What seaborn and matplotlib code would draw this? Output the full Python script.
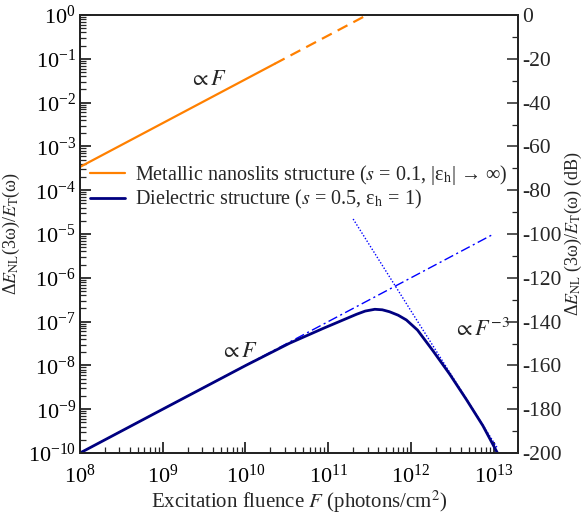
import numpy as np
import pandas as pd
import matplotlib
matplotlib.use("Agg")
import matplotlib.pyplot as plt
from matplotlib.ticker import LogLocator, MultipleLocator, NullFormatter
import seaborn as sns

# ---- data ----
metal_solid_F = [1e8, 2.26e10]
metal_solid_v = [3.4e-4, 7.7e-2]
metal_dash_F = [2.26e10, 2.94e11]
metal_dash_v = [7.7e-2, 1.0]

diel_F = [1e8, 1e9, 1e10, 3.4e10, 8.7e10, 2.2e11, 2.8e11, 3.66e11, 4.5e11,
          5.5e11, 7.0e11, 8.8e11, 1.2e12, 1.85e12, 2.94e12, 4.68e12, 7.4e12, 1.11e13]
diel_v = [1e-10, 1e-9, 9.9e-9, 3.2e-8, 7.0e-8, 1.47e-7, 1.74e-7, 1.91e-7, 1.86e-7,
          1.68e-7, 1.40e-7, 1.09e-7, 6.4e-8, 2.14e-8, 6.3e-9, 1.66e-9, 4.2e-10, 1.0e-10]

lin_F = [1e8, 1e13]
lin_v = [1e-10, 1e-5]

cube_F = [2.0e11, 1.1e13]
cube_v = [2.2e-5, 1.32e-10]

legend_labels = [
    r"Metallic nanoslits structure ($s$ = 0.1, |ε$_\mathrm{h}$| → ∞)",
    r"Dielectric structure ($s$ = 0.5, ε$_\mathrm{h}$ = 1)",
]

sns.set_theme(style="ticks")
plt.rcParams["font.family"] = ["serif"]
plt.rcParams["font.serif"] = ["Liberation Serif", "DejaVu Serif"]
plt.rcParams["mathtext.fontset"] = "stix"
plt.rcParams["axes.unicode_minus"] = False
plt.rcParams["axes.linewidth"] = 1.3

TICK_FS = 16
LAB_FS = 15
LEG_FS = 14.5
ANN_FS = 16

fig = plt.figure(figsize=(5.88, 5.14), dpi=100)
ax = fig.add_axes([80/588, 1-453/514, (517.7-80)/588, (453-15)/514])

orange = "#FF8000"
navy = "#000080"
blue = "#0000FF"

sns.lineplot(x=metal_solid_F, y=metal_solid_v, ax=ax, color=orange, lw=1.6,
             sort=False, estimator=None, label=legend_labels[0])
sns.lineplot(x=metal_dash_F, y=metal_dash_v, ax=ax, color=orange, lw=1.6,
             sort=False, estimator=None)
ax.lines[-1].set_dashes((5, 3))
sns.lineplot(x=lin_F, y=lin_v, ax=ax, color=blue, lw=1.0, sort=False, estimator=None)
ax.lines[-1].set_dashes((7, 2.5, 1.5, 2.5))
sns.lineplot(x=cube_F, y=cube_v, ax=ax, color=blue, lw=1.0, sort=False, estimator=None)
ax.lines[-1].set_dashes((1, 1.3))
sns.lineplot(x=diel_F, y=diel_v, ax=ax, color=navy, lw=2.0, sort=False,
             estimator=None, label=legend_labels[1])

ax.set_xscale("log")
ax.set_yscale("log")
ax.set_xlim(1e8, 1.95e13)
ax.set_ylim(1e-10, 1)

ax.xaxis.set_major_locator(LogLocator(base=10, numticks=20))
ax.xaxis.set_minor_locator(LogLocator(base=10, subs=np.arange(2, 10), numticks=20))
ax.xaxis.set_minor_formatter(NullFormatter())
ax.yaxis.set_major_locator(LogLocator(base=10, numticks=20))
ax.yaxis.set_minor_locator(LogLocator(base=10, subs=np.arange(2, 10), numticks=20))
ax.yaxis.set_minor_formatter(NullFormatter())
ax.tick_params(axis="both", which="major", direction="in", length=8, width=1.1,
               labelsize=TICK_FS, top=False, right=False, colors="black")
ax.tick_params(axis="both", which="minor", direction="in", length=4.5, width=0.9,
               top=False, right=False)
ax.tick_params(axis="x", pad=8)
ax.tick_params(axis="y", pad=3)

ax.set_xlabel(r"Excitation fluence $F$ (photons/cm$^2$)", fontsize=LAB_FS, labelpad=1)
ax.set_ylabel(r"Δ$E_\mathrm{NL}$(3ω)/$E_\mathrm{T}$(ω)", fontsize=13, labelpad=4)

for s in ax.spines.values():
    s.set_color("black")

ax2 = ax.twinx()
ax2.set_ylim(-200, 0)
ax2.yaxis.set_major_locator(MultipleLocator(20))
ax2.yaxis.set_minor_locator(MultipleLocator(10))
ax2.tick_params(axis="y", which="major", direction="in", length=8, width=1.1,
                labelsize=15.5, pad=3)
ax2.tick_params(axis="y", which="minor", direction="in", length=4.5, width=0.9)
ax2.set_ylabel(r"Δ$E_\mathrm{NL}$ (3ω)/$E_\mathrm{T}$(ω) (dB)", fontsize=13,
               rotation=90, labelpad=1)

ax.text(2.1e9, 0.025, r"$\propto F$", fontsize=ANN_FS)
ax.text(4.9e9, 1.55e-8, r"$\propto F$", fontsize=ANN_FS)
ax.text(3.2e12, 4.7e-8, r"$\propto F^{-3}$", fontsize=ANN_FS)

leg = ax.legend(loc="center left", bbox_to_anchor=(-0.005, 0.607), frameon=False,
                fontsize=LEG_FS, handlelength=1.75, handletextpad=0.5, labelspacing=0.05,
                borderaxespad=0.2)

fig.savefig("out.png", dpi=100)
